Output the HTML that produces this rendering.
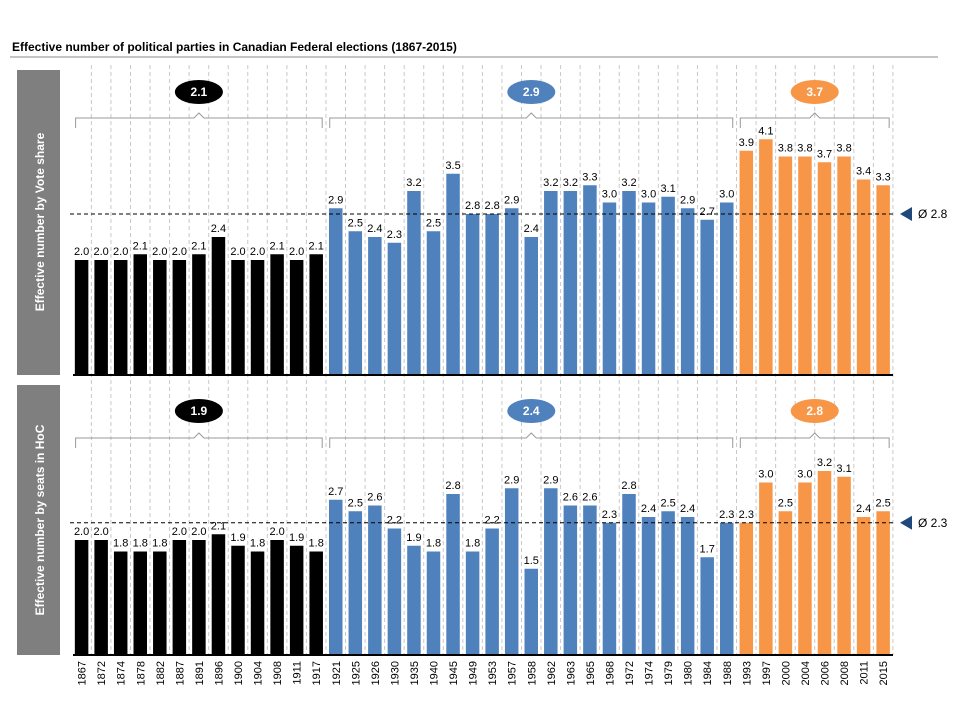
<!DOCTYPE html>
<html><head><meta charset="utf-8"><style>
body{margin:0;background:#fff;font-family:"Liberation Sans",sans-serif}
svg text{font-family:"Liberation Sans",sans-serif}
</style></head><body>
<svg id="c" width="960" height="720" xmlns="http://www.w3.org/2000/svg">
<text x="12" y="51" font-size="12" font-weight="bold">Effective number of political parties in Canadian Federal elections (1867-2015)</text>
<line x1="10" y1="57" x2="938" y2="57" stroke="#888" stroke-width="1"/>
<rect x="17" y="70" width="43" height="305" fill="#7f7f7f"/>
<text transform="translate(44,222) rotate(-90)" text-anchor="middle" font-size="12" font-weight="bold" fill="#fff">Effective number by Vote share</text>
<rect x="17" y="385" width="43" height="270" fill="#7f7f7f"/>
<text transform="translate(44,520) rotate(-90)" text-anchor="middle" font-size="12" font-weight="bold" fill="#fff">Effective number by seats in HoC</text>
<g id="g"></g>
</svg>
<script>
const years=["1867","1872","1874","1878","1882","1887","1891","1896","1900","1904","1908","1911","1917","1921","1925","1926","1930","1935","1940","1945","1949","1953","1957","1958","1962","1963","1965","1968","1972","1974","1979","1980","1984","1988","1993","1997","2000","2004","2006","2008","2011","2015"];
const voteShare=[2.0,2.0,2.0,2.1,2.0,2.0,2.1,2.4,2.0,2.0,2.1,2.0,2.1,2.9,2.5,2.4,2.3,3.2,2.5,3.5,2.8,2.8,2.9,2.4,3.2,3.2,3.3,3.0,3.2,3.0,3.1,2.9,2.7,3.0,3.9,4.1,3.8,3.8,3.7,3.8,3.4,3.3];
const seatShare=[2.0,2.0,1.8,1.8,1.8,2.0,2.0,2.1,1.9,1.8,2.0,1.9,1.8,2.7,2.5,2.6,2.2,1.9,1.8,2.8,1.8,2.2,2.9,1.5,2.9,2.6,2.6,2.3,2.8,2.4,2.5,2.4,1.7,2.3,2.3,3.0,2.5,3.0,3.2,3.1,2.4,2.5];
const eras=[{start:0,end:12,color:"#000000",vote:"2.1",seat:"1.9"},{start:13,end:33,color:"#4f81bd",vote:"2.9",seat:"2.4"},{start:34,end:41,color:"#f79646",vote:"3.7",seat:"2.8"}];
const averages=[2.8,2.3];
const NS="http://www.w3.org/2000/svg";
const g=document.getElementById('g');
function mk(t,a,p){const e=document.createElementNS(NS,t);for(const k in a)e.setAttribute(k,a[k]);(p||g).appendChild(e);return e;}
const x0=81.6,step=19.55,bw=13.5,scale=57.5;
const xc=i=>x0+i*step;
function colorOf(i){for(const e of eras)if(i>=e.start&&i<=e.end)return e.color;}
for(let i=0;i<years.length;i++){
  const l=mk('line',{x1:xc(i)+step/2,x2:xc(i)+step/2,y1:65,y2:655,stroke:'#c8c8c8','stroke-dasharray':'4,3'});
  
  
}
const panels=[{data:seatShare,base:655,braceY:438,ellY:411,key:'seat',name:'seats'},{data:voteShare,base:375,braceY:118,ellY:92,key:'vote',name:'vote'}];
panels.forEach((p,pi)=>{
  const y=v=>p.base-v*scale;
  p.data.forEach((v,i)=>{
    const r=mk('rect',{x:xc(i)-bw/2,y:y(v),width:bw,height:v*scale,fill:colorOf(i)});
    
    
    const t=mk('text',{x:xc(i),y:y(v)-5,'text-anchor':'middle','font-size':'11'});
    t.textContent=v.toFixed(1);
    
    
  });
  const ax=mk('line',{x1:73,x2:893,y1:p.base,y2:p.base,stroke:'#000','stroke-width':2});
  
  
  const avg=averages[pi===1?0:1];
  const al=mk('line',{x1:70,x2:893,y1:y(avg),y2:y(avg),stroke:'#000','stroke-dasharray':'4,3'});
  
  
  const tri=mk('polygon',{points:`900,${y(avg)} 912,${y(avg)-7} 912,${y(avg)+7}`,fill:'#1f497d'});
  
  
  const at=mk('text',{x:918,y:y(avg)+4,'font-size':'12'});
  at.textContent='Ø '+avg.toFixed(1);
  
  
  eras.forEach(e=>{
    const a=xc(e.start)-6,b=xc(e.end)+6,m=(a+b)/2,by=p.braceY;
    const br=mk('path',{d:`M${a},${by+10} V${by} H${m-5} L${m},${by-5} L${m+5},${by} H${b} V${by+10}`,fill:'none',stroke:'#999'});
    
    
    const el=mk('ellipse',{cx:m,cy:p.ellY,rx:24,ry:12,fill:e.color});
    
    
    const et=mk('text',{x:m,y:p.ellY+4,'text-anchor':'middle','font-size':'12','font-weight':'bold',fill:'#fff'});
    et.textContent=e[p.key];
    
    
  });
});
years.forEach((yr,i)=>{
  const t=mk('text',{transform:`translate(${xc(i)+4},${661}) rotate(-90)`,'text-anchor':'end','font-size':'11'});
  t.textContent=yr;
  
  
});
</script>
</body></html>
